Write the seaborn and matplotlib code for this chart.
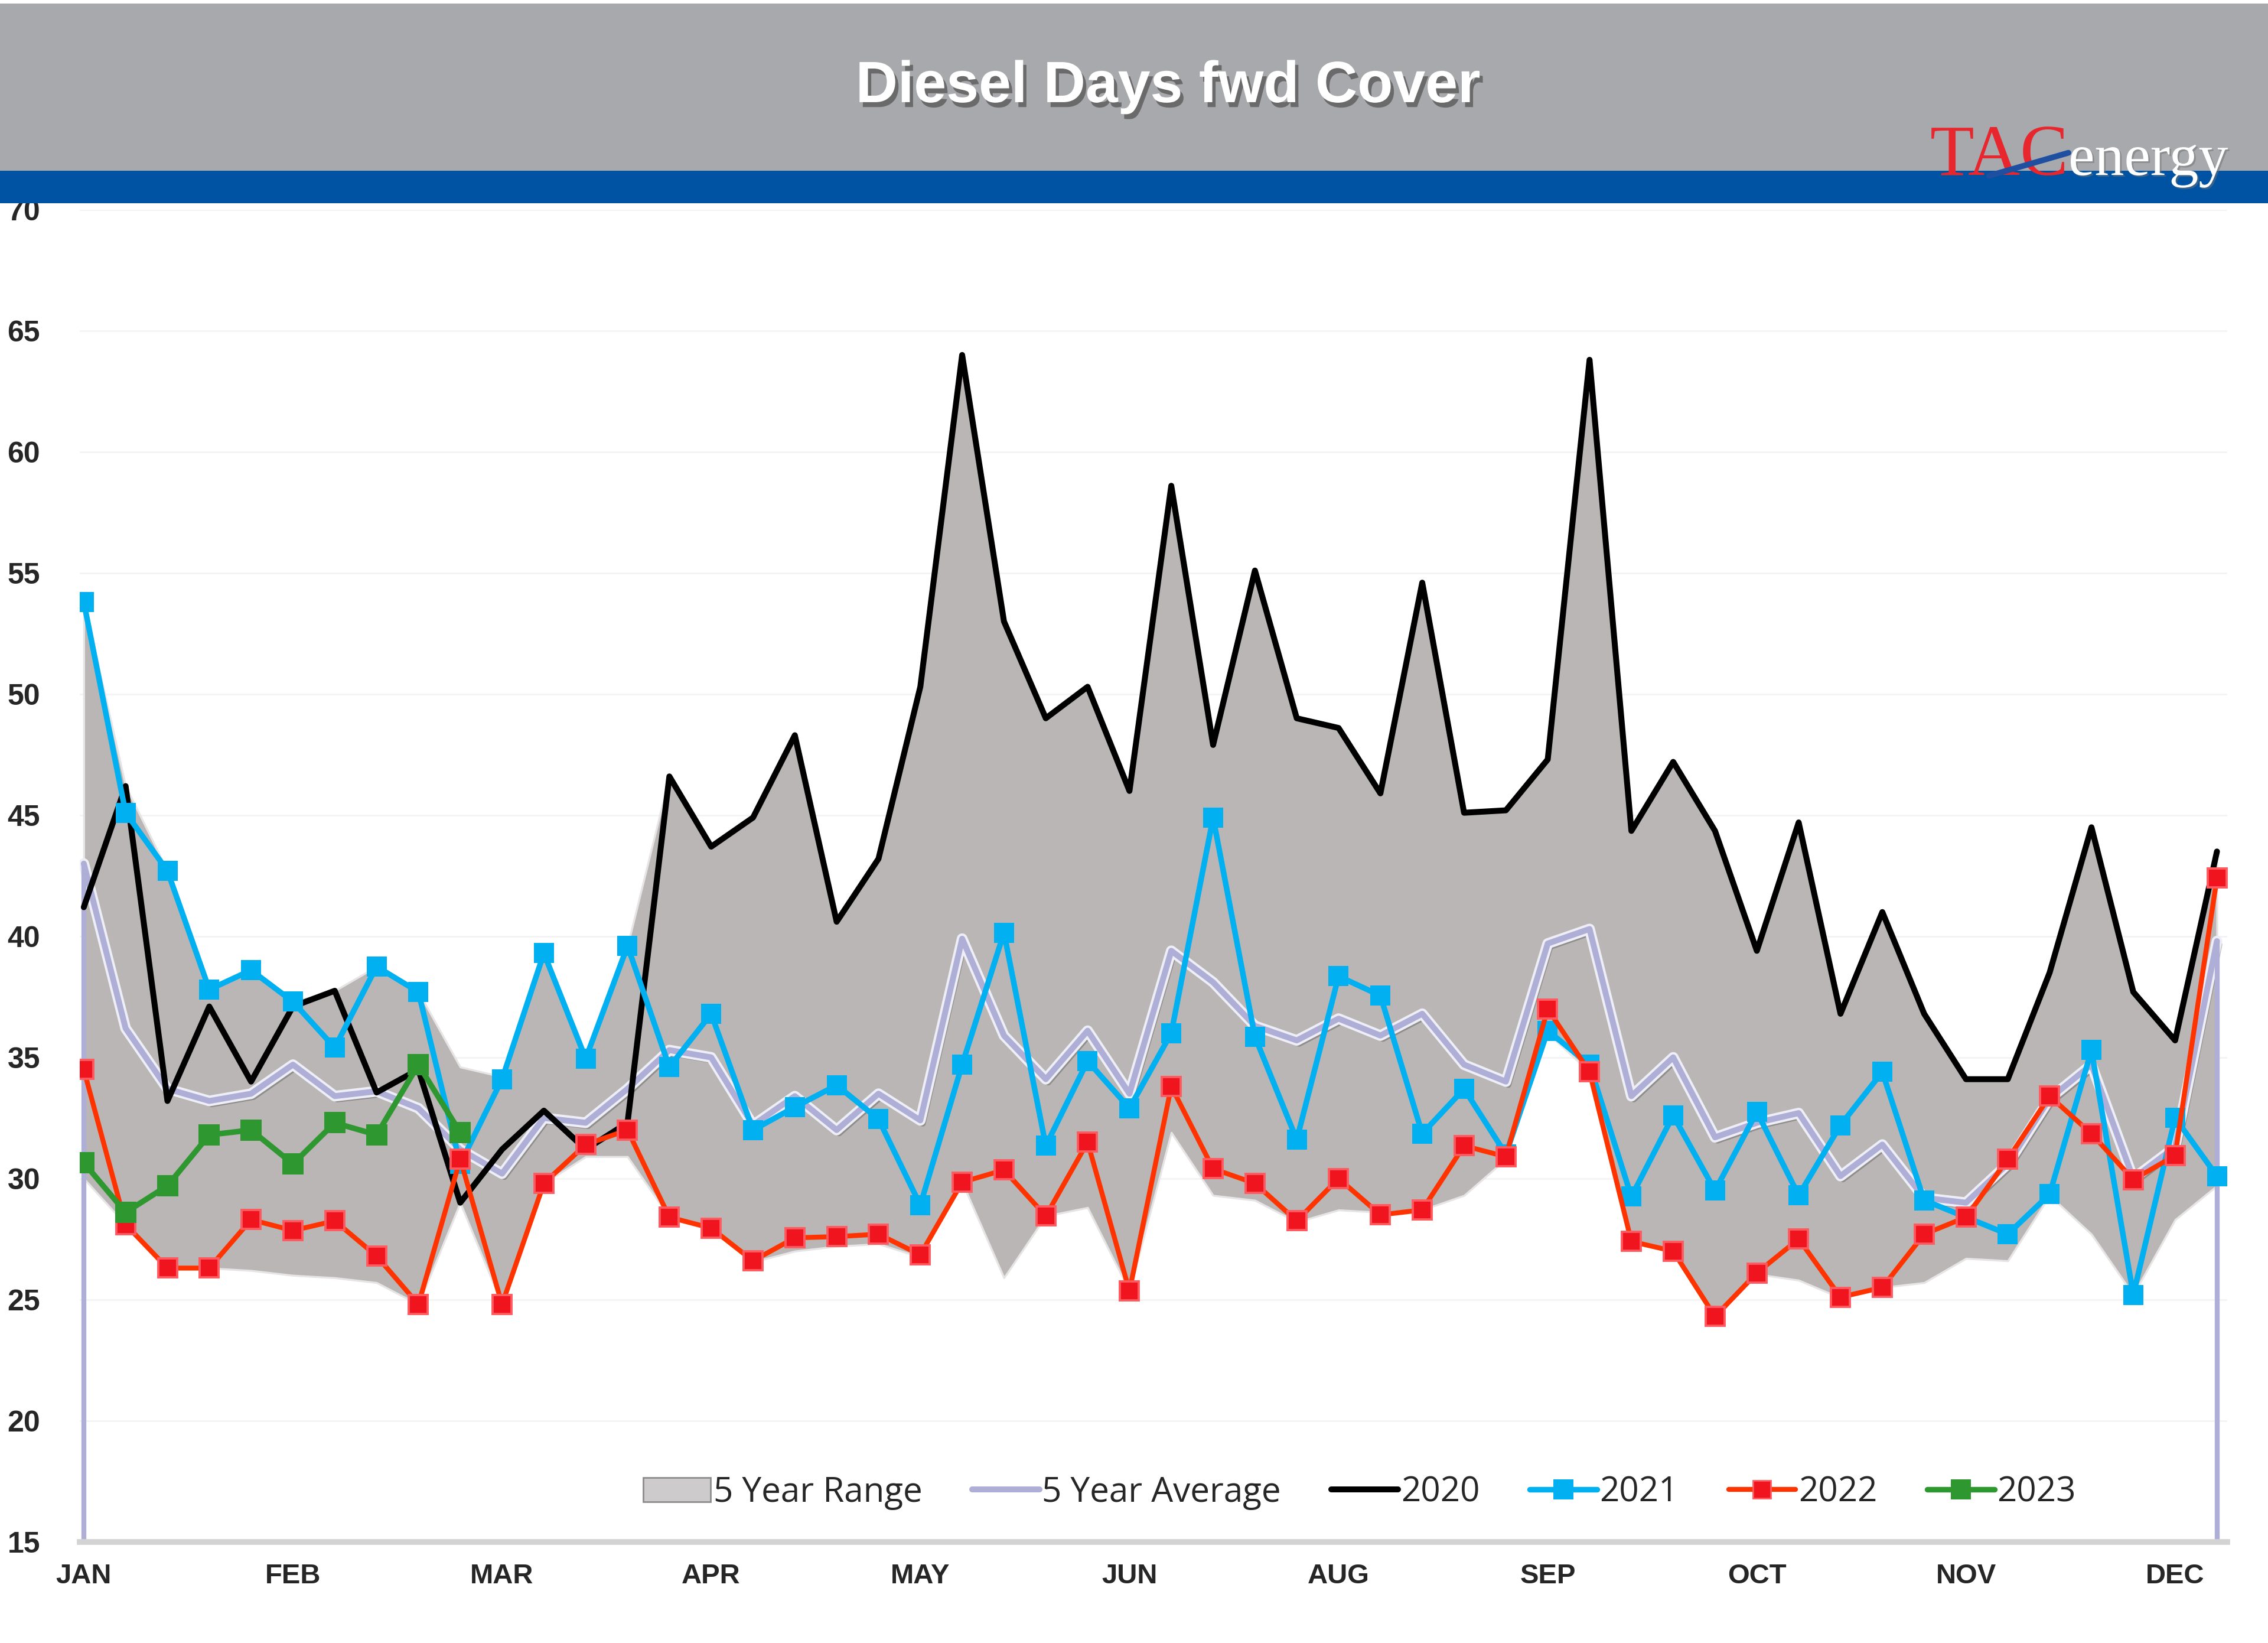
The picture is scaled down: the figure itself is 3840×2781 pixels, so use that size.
import numpy as np
import pandas as pd
import seaborn as sns
import matplotlib.pyplot as plt
import matplotlib.patheffects as pe
from matplotlib.patches import Rectangle, Patch
from matplotlib.lines import Line2D

# weekly data, 52 weeks
weeks = np.arange(52)
month_labels = ['JAN', 'FEB', 'MAR', 'APR', 'MAY', 'JUN', 'AUG', 'SEP', 'OCT', 'NOV', 'DEC']

range_lo = [30.0, 28.1, 26.3, 26.3, 26.2, 26.0, 25.9, 25.7, 24.8, 29.0,
            24.8, 29.8, 30.9, 30.9, 28.4, 27.95, 26.55, 27.0, 27.2, 27.3,
            26.75, 29.85, 25.9, 28.45, 28.8, 25.35, 31.9, 29.3, 29.1, 28.2,
            28.7, 28.6, 28.7, 29.3, 30.8, 36.0, 34.4, 27.4, 27.0, 24.3,
            26.05, 25.8, 25.07, 25.5, 25.7, 26.7, 26.6, 29.3, 27.7, 25.2,
            28.3, 29.7]
range_hi = [53.8, 46.2, 42.7, 37.8, 38.6, 37.3, 37.75, 38.75, 37.7, 34.6,
            34.2, 39.3, 35.0, 39.6, 46.6, 43.7, 44.9, 48.3, 40.6, 43.2,
            50.3, 64.0, 53.0, 49.0, 50.3, 46.0, 58.6, 47.9, 55.1, 49.0,
            48.6, 45.9, 54.6, 45.1, 45.2, 47.3, 63.8, 44.35, 47.2, 44.35,
            39.4, 44.7, 36.8, 41.0, 36.8, 34.1, 34.1, 38.5, 44.5, 37.7,
            35.7, 43.5]
avg_5yr = [43.0, 36.2, 33.7, 33.2, 33.5, 34.7, 33.4, 33.6, 32.9, 31.2,
           30.2, 32.5, 32.3, 33.7, 35.3, 35.0, 32.2, 33.4, 32.0, 33.5,
           32.4, 39.9, 35.9, 34.1, 36.1, 33.5, 39.4, 38.1, 36.3, 35.7,
           36.6, 35.9, 36.8, 34.7, 34.0, 39.7, 40.3, 33.4, 35.0, 31.7,
           32.3, 32.7, 30.1, 31.4, 29.2, 29.0, 30.6, 33.3, 34.7, 30.0,
           31.3, 39.8]
y2020 = [41.2, 46.2, 33.2, 37.1, 34.0, 37.1, 37.75, 33.55, 34.5, 29.0,
         31.2, 32.8, 31.2, 32.3, 46.6, 43.7, 44.9, 48.3, 40.6, 43.2,
         50.3, 64.0, 53.0, 49.0, 50.3, 46.0, 58.6, 47.9, 55.1, 49.0,
         48.6, 45.9, 54.6, 45.1, 45.2, 47.3, 63.8, 44.35, 47.2, 44.35,
         39.4, 44.7, 36.8, 41.0, 36.8, 34.1, 34.1, 38.5, 44.5, 37.7,
         35.7, 43.5]
y2021 = [53.8, 45.1, 42.7, 37.8, 38.6, 37.3, 35.4, 38.75, 37.7, 30.6,
         34.1, 39.3, 34.95, 39.6, 34.6, 36.8, 32.0, 32.95, 33.85, 32.45,
         28.9, 34.7, 40.15, 31.35, 34.85, 32.9, 36.0, 44.9, 35.85, 31.6,
         38.35, 37.55, 31.85, 33.7, 31.0, 36.1, 34.7, 29.25, 32.6, 29.5,
         32.75, 29.3, 32.2, 34.4, 29.1, 28.4, 27.7, 29.35, 35.3, 25.2,
         32.5, 30.1]
y2022 = [34.5, 28.1, 26.3, 26.3, 28.3, 27.85, 28.25, 26.8, 24.8, 30.8,
         24.8, 29.8, 31.4, 32.0, 28.4, 27.95, 26.6, 27.55, 27.6, 27.7,
         26.85, 29.85, 30.35, 28.45, 31.5, 25.35, 33.8, 30.4, 29.8, 28.25,
         30.0, 28.5, 28.7, 31.35, 30.9, 37.0, 34.4, 27.4, 27.0, 24.3,
         26.1, 27.5, 25.1, 25.5, 27.7, 28.4, 30.8, 33.4, 31.85, 29.95,
         30.95, 42.4]
y2023 = [30.65, 28.6, 29.7, 31.8, 32.0, 30.6, 32.3, 31.8, 34.7, 31.9]

df = pd.DataFrame({'week': weeks, 'lo': range_lo, 'hi': range_hi, 'avg': avg_5yr,
                   '2020': y2020, '2021': y2021, '2022': y2022})
df23 = pd.DataFrame({'week': weeks[:len(y2023)], '2023': y2023})

sns.set_theme(style='white')
plt.rcParams['font.family'] = ['Liberation Sans', 'DejaVu Sans']

fig = plt.figure(figsize=(19.2, 13.905), dpi=200)
fig.patch.set_facecolor('white')
ax = fig.add_axes([0.0351, 0.0616, 0.947, 0.8108])

# header bands
fig.patches.append(Rectangle((0, 0.896), 1, 0.102, transform=fig.transFigure,
                             facecolor='#a7a9ac', edgecolor='none', zorder=5))
fig.patches.append(Rectangle((0, 0.8762), 1, 0.0198, transform=fig.transFigure,
                             facecolor='#0053a2', edgecolor='none', zorder=6))
fig.text(0.515, 0.947, 'Diesel Days fwd Cover', color='white', fontsize=35.5,
         fontweight='bold', ha='center', va='center', zorder=7,
         path_effects=[pe.SimplePatchShadow(offset=(2, -3), shadow_rgbFace='#505050', alpha=0.7),
                       pe.Normal()])
# logo
fig.text(0.851, 0.8935, 'TAC', color='#e8262d', fontsize=44, family='Liberation Serif',
         ha='left', va='baseline', zorder=8)
fig.text(0.912, 0.8935, 'energy', color='white', fontsize=36, family='Liberation Serif',
         ha='left', va='baseline', zorder=8,
         path_effects=[pe.SimplePatchShadow(offset=(1, -1), shadow_rgbFace='#707070', alpha=0.5),
                       pe.Normal()])
fig.lines.append(Line2D([0.877, 0.912], [0.8930, 0.9070], transform=fig.transFigure,
                        color='#1f4fa0', lw=3.5, zorder=9))

# 5 year range
ax.fill_between(df['week'], df['lo'], df['hi'], facecolor='#bab6b5', edgecolor='#e6e4e4',
                linewidth=1.2, zorder=1)

# 5 year average with glow
avg_fx = [pe.SimpleLineShadow(offset=(1.5, -2), shadow_color='#404040', alpha=0.35),
          pe.Stroke(linewidth=6.5, foreground='#eeeef7'), pe.Normal()]
sns.lineplot(data=df, x='week', y='avg', color='#aeaed6', lw=3.6, ax=ax, zorder=2,
             path_effects=avg_fx)
ax.vlines([df['week'].iloc[0], df['week'].iloc[-1]], 15,
          [df['avg'].iloc[0], df['avg'].iloc[-1]], color='#aeaed6', lw=3, zorder=2)

sns.lineplot(data=df, x='week', y='2020', color='black', lw=3.6, ax=ax, zorder=3)
sns.lineplot(data=df, x='week', y='2021', color='#00b0f0', lw=3.4, marker='s',
             markersize=12.5, markeredgewidth=0, ax=ax, zorder=4)
sns.lineplot(data=df, x='week', y='2022', color='#ff3300', lw=3.0, marker='s',
             markersize=11.5, markerfacecolor='#f0141e', markeredgecolor='#ff5a5f',
             markeredgewidth=1.4, ax=ax, zorder=5)
sns.lineplot(data=df23, x='week', y='2023', color='#2f972f', lw=3.4, marker='s',
             markersize=13, markeredgewidth=0, ax=ax, zorder=6)

ax.set_xlim(-0.1, 51.25)
ax.set_ylim(15, 70)
ax.set_yticks(np.arange(15, 71, 5))
ax.set_xticks(weeks[::5])
ax.set_xticklabels(month_labels)
ax.set_xlabel('')
ax.set_ylabel('')
ax.tick_params(axis='y', length=0, pad=24, labelsize=18)
ax.tick_params(axis='x', length=0, pad=13, labelsize=17)
for lab in ax.get_xticklabels() + ax.get_yticklabels():
    lab.set_fontweight('bold')
ax.yaxis.grid(True, color='#f3f3f3', lw=1)
ax.xaxis.grid(False)
for s in ['top', 'right', 'left']:
    ax.spines[s].set_visible(False)
ax.spines['bottom'].set_color('#d3d3d3')
ax.spines['bottom'].set_linewidth(3.5)

handles = [
    Patch(facecolor='#cdcbcb', edgecolor='#8c8c8c', linewidth=1),
    Line2D([], [], color='#aeaed6', lw=3.6),
    Line2D([], [], color='black', lw=3.6),
    Line2D([], [], color='#00b0f0', lw=3.4, marker='s', markersize=12, markeredgewidth=0),
    Line2D([], [], color='#ff3300', lw=3.0, marker='s', markersize=11,
           markerfacecolor='#f0141e', markeredgecolor='#ff5a5f'),
    Line2D([], [], color='#2f972f', lw=3.4, marker='s', markersize=12.5, markeredgewidth=0),
]
labels = ['5 Year Range', '5 Year Average', '2020', '2021', '2022', '2023']
ax.legend(handles, labels, loc='center', bbox_to_anchor=(0.596, 0.037), ncol=6,
          frameon=False, handlelength=1.95, handletextpad=0.08,
          columnspacing=1.45, prop={'family': 'Open Sans', 'size': 21})

fig.savefig('out.png', dpi=200, facecolor='white')
